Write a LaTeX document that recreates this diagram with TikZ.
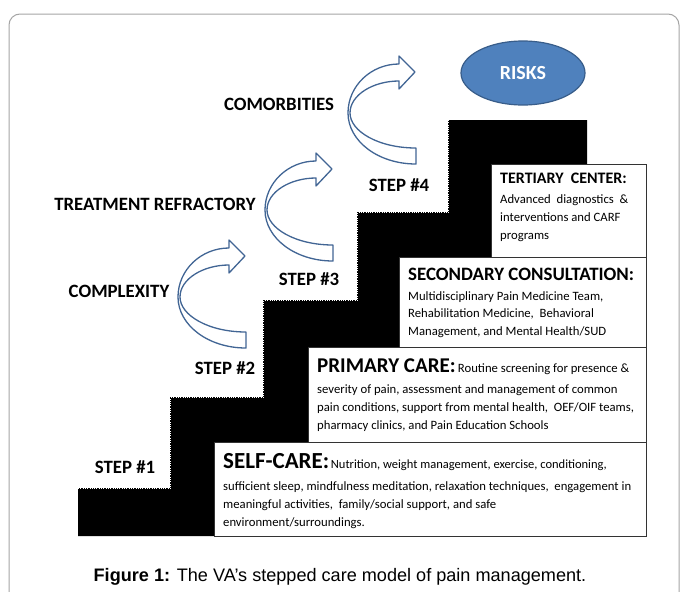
\documentclass[tikz,border=0pt]{standalone}
\usepackage{fontspec}
\setmainfont{Carlito}
\newfontfamily\capfont{Liberation Sans}
\usetikzlibrary{shapes.geometric}
\definecolor{arrowblue}{RGB}{65,101,148}
\definecolor{riskfill}{RGB}{79,129,189}
\definecolor{riskline}{RGB}{56,93,138}
\definecolor{framegray}{RGB}{165,165,165}
\begin{document}
\begin{tikzpicture}[x=1pt,y=-1pt,
  lbl/.style={font=\fontsize{18.8}{22}\selectfont\bfseries, inner sep=0pt},
  box/.style={draw=black!80, line width=0.9pt, fill=white, inner sep=0pt, anchor=north west},
  body/.style={font=\fontsize{12.7}{15}\selectfont, anchor=base west, inner sep=0pt},
  ttl/.style={anchor=base west, inner sep=0pt},
  curvarrow/.pic={
    \draw[arrowblue, line width=1.3pt, fill=white, line join=round]
      (68,51) .. controls (30,51) and (0,28) .. (0,0)
      .. controls (0,-27) and (23,-49) .. (51,-49)
      -- (51,-57) -- (67,-41) -- (51,-24) -- (51,-32)
      .. controls (25,-32) and (2,-18) .. (2,0)
      .. controls (2,18) and (30,35) .. (68,35) -- cycle;
  }
]
\useasboundingbox (0,0) rectangle (681,592);
\fill[white] (0,0) rectangle (681,592);
% frame
\draw[framegray, line width=1pt, rounded corners=11pt] (9,14) rectangle (679,640);
% staircase
\fill[black] (78,536) -- (78,488) -- (170,488) -- (170,397) -- (263,397) -- (263,300)
  -- (357,300) -- (357,212) -- (448,212) -- (448,120) -- (587,120) -- (587,536) -- cycle;
\draw[white, line width=1pt, dash pattern=on 1pt off 1.3pt]
  (78,488.6) -- (170.6,488.6) -- (170.6,397.6) -- (263.6,397.6) -- (263.6,300.6)
  -- (357.6,300.6) -- (357.6,212.6) -- (448.6,212.6) -- (448.6,120);
% boxes
\node[box, minimum width=155pt, minimum height=93pt] (tert) at (491,164) {};
\node[box, minimum width=247pt, minimum height=90pt] (sec) at (399,257) {};
\node[box, minimum width=338pt, minimum height=95pt] (prim) at (308,347) {};
\node[box, minimum width=432pt, minimum height=94pt] (self) at (214,442) {};
% tertiary text
\node[ttl, font=\fontsize{16}{19}\selectfont\bfseries] (t0) at (500,183) {TERTIARY\ \ CENTER:};
\node[body] (t1) at (500,203) {Advanced\ \ diagnostics\ \ \&};
\node[body] (t2) at (500,221) {interventions and CARF};
\node[body] (t3) at (500,239) {programs};
% secondary text
\node[ttl, font=\fontsize{18.9}{22}\selectfont\bfseries] (s0) at (408,280) {SECONDARY CONSULTATION:};
\node[body] (s1) at (408,300) {Multidisciplinary Pain Medicine Team,};
\node[body] (s2) at (408,317.5) {Rehabilitation Medicine,\ \ Behavioral};
\node[body] (s3) at (408,335) {Management, and Mental Health/SUD};
% primary text
\node[ttl] (p0) at (317,372) {{\fontsize{21}{24}\selectfont\bfseries PRIMARY CARE:} {\fontsize{12.7}{15}\selectfont Routine screening for presence \&}};
\node[body] (p1) at (317,393) {severity of pain, assessment and management of common};
\node[body] (p2) at (317,411) {pain conditions, support from mental health,\ \ OEF/OIF teams,};
\node[body] (p3) at (317,429) {pharmacy clinics, and Pain Education Schools};
% self-care text
\node[ttl] (c0) at (223,468) {{\fontsize{23}{26}\selectfont\bfseries SELF-CARE:}\,{\fontsize{12.5}{15}\selectfont Nutrition, weight management, exercise, conditioning,}};
\node[body] (c1) at (223,490) {sufficient sleep, mindfulness meditation, relaxation techniques,\ \ engagement in};
\node[body] (c2) at (223,508) {meaningful activities,\ \ family/social support, and safe};
\node[body] (c3) at (223,526) {environment/surroundings.};
% labels
\node[lbl] (st1) at (125,467) {STEP \#1};
\node[lbl] (st2) at (225,368) {STEP \#2};
\node[lbl] (st3) at (309,279) {STEP \#3};
\node[lbl] (st4) at (399,185) {STEP \#4};
\node[lbl] (cx) at (119,291) {COMPLEXITY};
\node[lbl] (tr) at (155,204) {TREATMENT REFRACTORY};
\node[lbl] (cm) at (279,104) {COMORBITIES};
% arrows
\pic at (178,297) {curvarrow};
\pic at (265,210) {curvarrow};
\pic at (348,113) {curvarrow};
% risks
\node[ellipse, draw=riskline, fill=riskfill, line width=1.2pt, minimum width=124pt,
  minimum height=64pt, text=white, font=\fontsize{20}{23}\selectfont\bfseries] (risks) at (523,73) {RISKS};
% caption
\node[anchor=base, inner sep=0pt, font=\capfont\fontsize{18.1}{21}\selectfont] (cap) at (340,581)
  {\textbf{Figure 1:} The VA’s stepped care model of pain management.};
\end{tikzpicture}
\end{document}
